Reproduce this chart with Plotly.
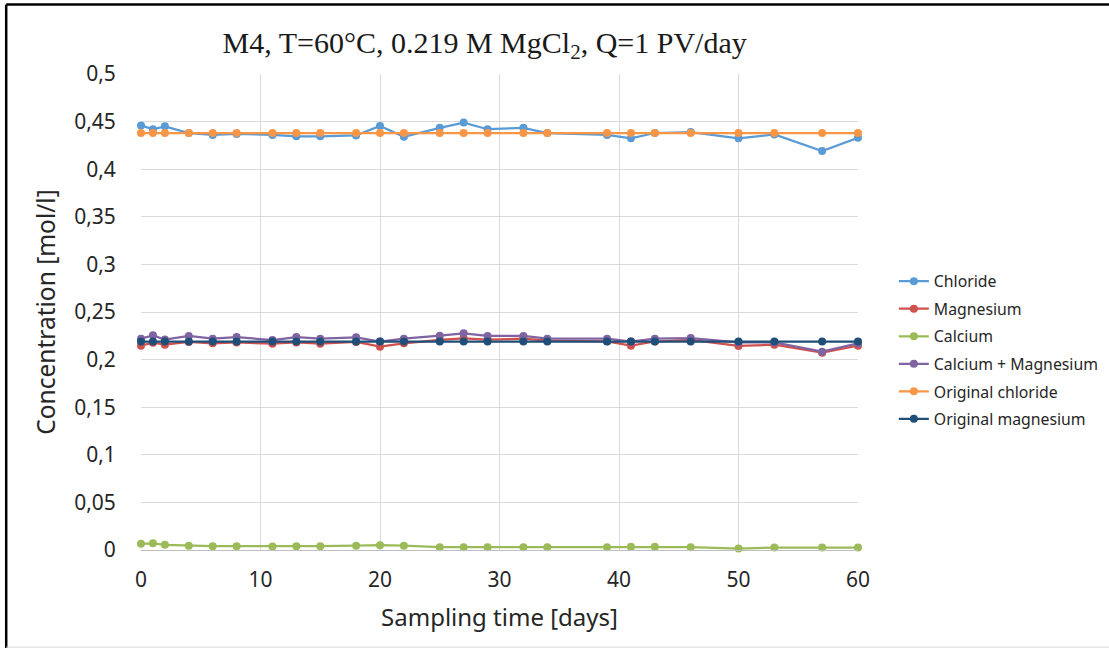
import plotly.graph_objs as go

# Sampling days
days = [0, 1, 2, 4, 6, 8, 11, 13, 15, 18, 20, 22, 25, 27, 29, 32, 34, 39, 41, 43, 46, 50, 53, 57, 60]

# Measured concentrations [mol/l]
chloride = [0.446, 0.442, 0.445, 0.438, 0.436, 0.437, 0.436, 0.4345, 0.4345, 0.4355, 0.4455, 0.434, 0.4435, 0.449,
            0.442, 0.4435, 0.438, 0.436, 0.4325, 0.438, 0.439, 0.4325, 0.4365, 0.419, 0.433]
magnesium = [0.2146, 0.2178, 0.2157, 0.2185, 0.2171, 0.218, 0.2167, 0.218, 0.2167, 0.2185, 0.2136, 0.2171, 0.2206,
             0.2224, 0.221, 0.222, 0.220, 0.2192, 0.2146, 0.219, 0.2206, 0.2143, 0.2157, 0.2073, 0.2146]
calcium = [0.0065, 0.007, 0.0055, 0.0045, 0.004, 0.004, 0.0038, 0.004, 0.004, 0.0045, 0.005, 0.0045, 0.003, 0.003,
           0.003, 0.003, 0.003, 0.003, 0.0033, 0.0033, 0.003, 0.0015, 0.0025, 0.0025, 0.0025]
ca_mg = [0.222, 0.2255, 0.221, 0.2248, 0.222, 0.2237, 0.2205, 0.2237, 0.222, 0.2234, 0.219, 0.222, 0.2251, 0.2276,
         0.2248, 0.2248, 0.222, 0.222, 0.219, 0.222, 0.2226, 0.218, 0.218, 0.2083, 0.217]
orig_chloride = [0.438] * len(days)
orig_magnesium = [0.219] * len(days)

y_ticks = [0, 0.05, 0.1, 0.15, 0.2, 0.25, 0.3, 0.35, 0.4, 0.45, 0.5]
y_tick_labels = ["0", "0,05", "0,1", "0,15", "0,2", "0,25", "0,3", "0,35", "0,4", "0,45", "0,5"]
x_ticks = [0, 10, 20, 30, 40, 50, 60]

series = [
    ("Chloride", chloride, "#5B9BD5"),
    ("Magnesium", magnesium, "#D0504D"),
    ("Calcium", calcium, "#9BBB59"),
    ("Calcium + Magnesium", ca_mg, "#8064A2"),
    ("Original chloride", orig_chloride, "#F79646"),
    ("Original magnesium", orig_magnesium, "#1F4E79"),
]

fig = go.Figure()
for name, vals, col in series:
    fig.add_trace(go.Scatter(x=days, y=vals, name=name, legendgroup=name, mode='lines+markers',
                             line=dict(color=col, width=2.25),
                             marker=dict(color=col, size=8),
                             cliponaxis=False))

fig.update_layout(
    width=1109, height=649,
    paper_bgcolor='white', plot_bgcolor='white',
    margin=dict(l=141, r=251, t=74, b=99, autoexpand=False),
    font=dict(family='Noto Sans, sans-serif', color='#262626'),
    title=dict(text='M4, T=60°C, 0.219 M MgCl<sub>2</sub>, Q=1 PV/day',
               font=dict(family='Liberation Serif, serif', size=30, color='#1a1a1a'),
               x=0.437, xanchor='center', y=0.935, yanchor='middle'),
    xaxis=dict(range=[0, 60], tickvals=x_ticks, showgrid=True, gridcolor='#D9D9D9', gridwidth=1,
               zeroline=False, showline=True, linecolor='#BFBFBF', linewidth=1,
               tickfont=dict(size=21), ticks='outside', ticklen=11, tickcolor='rgba(0,0,0,0)',
               title=dict(text='Sampling time [days]', font=dict(size=24), standoff=16)),
    yaxis=dict(range=[0, 0.5], tickvals=y_ticks, ticktext=y_tick_labels, showgrid=True,
               gridcolor='#D9D9D9', gridwidth=1, zeroline=False, showline=False,
               tickfont=dict(size=21), ticks='outside', ticklen=20, tickcolor='rgba(0,0,0,0)',
               title=dict(text='Concentration [mol/l]', font=dict(size=24.5), standoff=11)),
    legend=dict(x=1.05, y=0.6, xanchor='left', yanchor='top', font=dict(size=15.8),
                tracegroupgap=4, itemwidth=30, bgcolor='rgba(0,0,0,0)'),
    shapes=[
        dict(type='line', xref='paper', yref='paper', x0=-0.188, x1=1.36, y0=1.146, y1=1.146,
             line=dict(color='black', width=2.5)),
        dict(type='line', xref='paper', yref='paper', x0=-0.188, x1=-0.188, y0=1.146, y1=-0.206,
             line=dict(color='black', width=2.5)),
        dict(type='line', xref='paper', yref='paper', x0=-0.188, x1=1.36, y0=-0.204, y1=-0.204,
             line=dict(color='#D9D9D9', width=1)),
    ],
)

# drop the default page margin so the figure sits at the window's corner
fig.write_html("out.html", config={'displayModeBar': False},
               post_script="document.body.style.margin='0px';")
